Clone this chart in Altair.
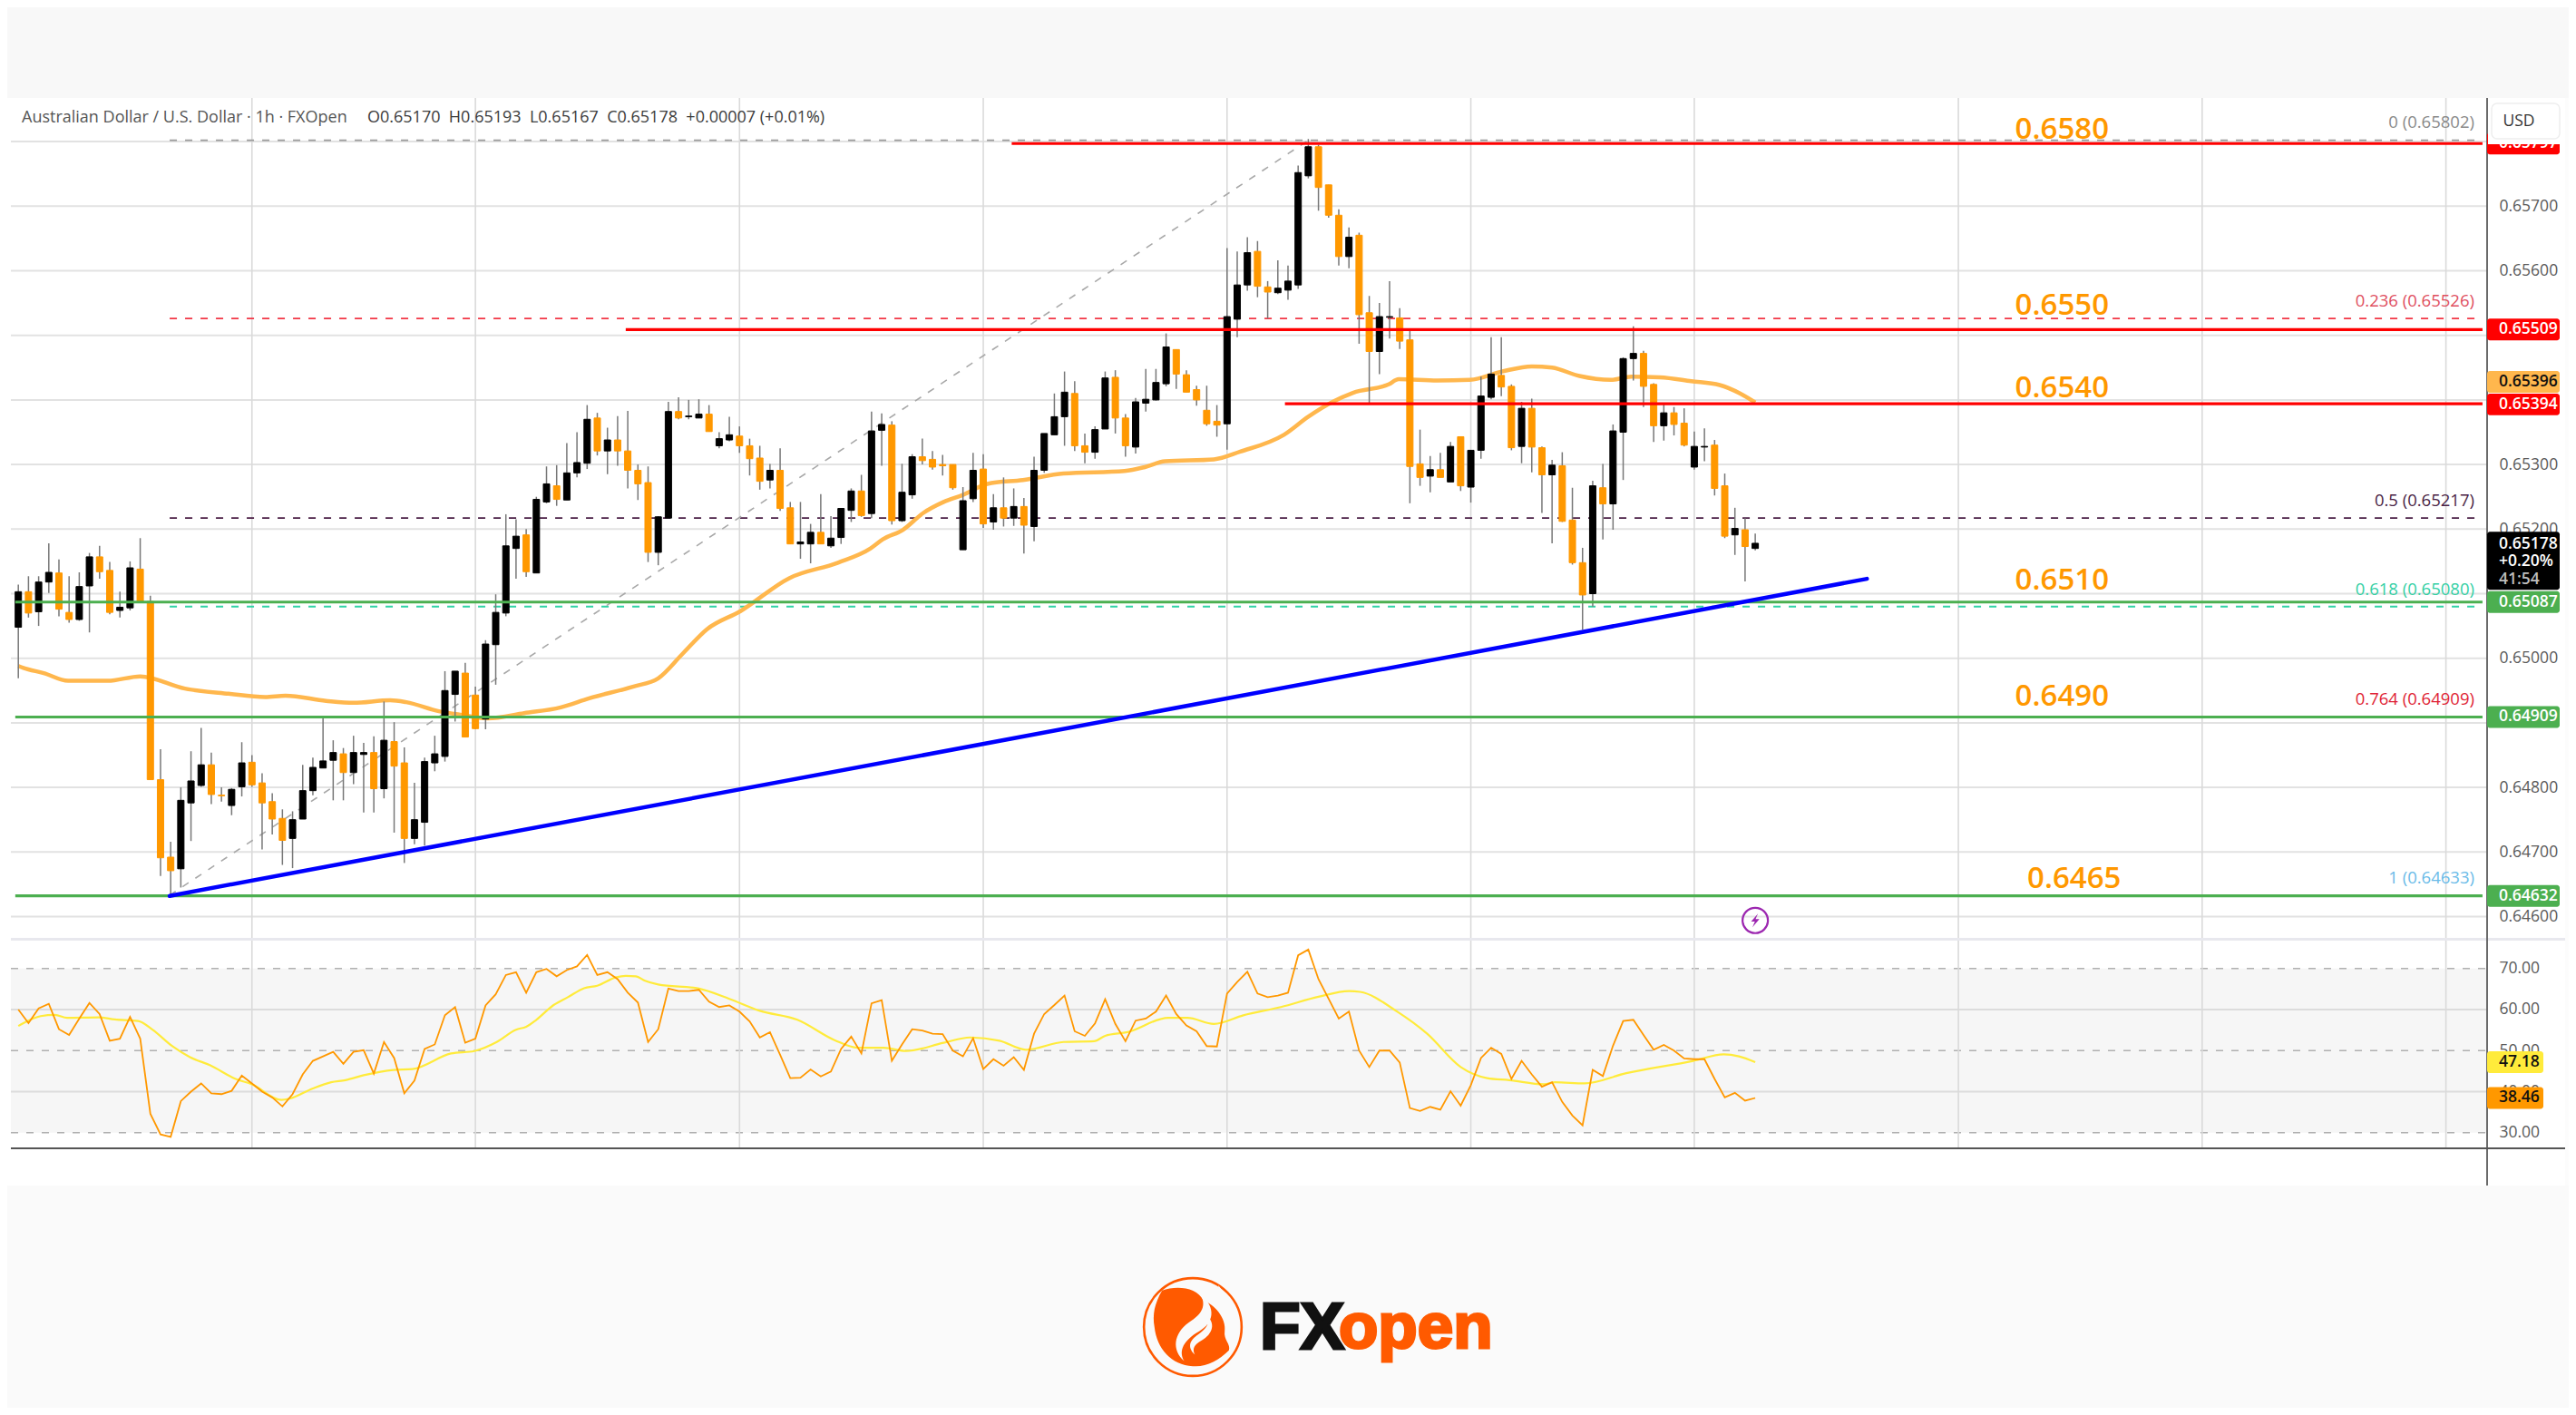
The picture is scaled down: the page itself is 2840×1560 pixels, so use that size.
import altair as alt
import pandas as pd

# ---------- candles (price x 100000) ----------
bar_high = [
65114,65127,65127,65178,65153,65127,65133,65163,65174,65149,
65103,65150,65186,65097,64859,64716,64800,64856,64892,64854,
64800,64799,64870,64850,64822,64791,64766,64763,64835,64846,
64908,64873,64861,64880,64869,64879,64933,64901,64862,64807,
64846,64880,64980,64980,64993,64956,65028,65099,65223,65215,
65200,65250,65297,65299,65333,65350,65392,65380,65357,65375,
65383,65300,65297,65220,65397,65404,65400,65401,65392,65350,
65374,65359,65340,65329,65301,65325,65242,65242,65208,65254,
65220,65232,65263,65284,65382,65379,65367,65301,65316,65340,
65321,65315,65300,65265,65318,65316,65254,65280,65263,65248,
65312,65348,65410,65444,65429,65348,65359,65444,65446,65378,
65403,65448,65448,65503,65478,65446,65422,65422,65392,65635,
65630,65652,65646,65584,65616,65608,65763,65804,65795,65733,
65695,65667,65659,65561,65550,65584,65542,65509,65354,65313,
65318,65335,65343,65322,65436,65497,65497,65424,65397,65402,
65328,65307,65319,65264,65171,65275,65301,65362,65466,65514,
65476,65426,65394,65389,65387,65351,65356,65338,65286,65233,
65217,65193]
bar_low = [
64969,65063,65050,65101,65065,65055,65058,65040,65123,65068,
65063,65074,65088,64812,64663,64632,64645,64717,64801,64774,
64778,64757,64786,64801,64704,64727,64680,64675,64751,64788,
64830,64780,64780,64805,64761,64761,64783,64730,64683,64712,
64710,64825,64840,64902,64878,64890,64890,64959,65065,65123,
65126,65132,65240,65236,65245,65280,65293,65314,65285,65298,
65263,65245,65149,65144,65217,65370,65370,65372,65351,65325,
65336,65318,65283,65261,65263,65228,65177,65154,65147,65177,
65171,65177,65211,65219,65217,65298,65207,65211,65247,65300,
65292,65283,65261,65168,65242,65202,65199,65204,65205,65162,
65181,65287,65346,65329,65321,65302,65309,65355,65348,65312,
65317,65382,65399,65421,65417,65412,65391,65360,65343,65323,
65497,65569,65559,65526,65564,65555,65572,65743,65693,65682,
65608,65604,65487,65394,65440,65495,65479,65240,65267,65257,
65280,65273,65259,65241,65309,65401,65406,65322,65302,65288,
65225,65178,65211,65145,65044,65080,65184,65199,65276,65430,
65389,65335,65337,65345,65328,65292,65305,65252,65186,65160,
65119,65167]
body_top = [
65103,65103,65118,65133,65132,65071,65111,65157,65157,65136,
65079,65140,65138,65088,64812,64692,64780,64810,64835,64835,
64788,64797,64838,64839,64807,64778,64752,64750,64795,64831,
64841,64854,64852,64854,64854,64854,64873,64871,64838,64750,
64840,64852,64950,64980,64977,64943,65022,65071,65174,65189,
65191,65246,65270,65267,65287,65303,65370,65372,65338,65338,
65321,65291,65272,65219,65382,65382,65375,65378,65378,65340,
65346,65344,65329,65310,65291,65291,65233,65180,65195,65195,
65186,65232,65259,65259,65352,65362,65361,65257,65312,65312,
65308,65300,65300,65244,65291,65293,65233,65233,65235,65235,
65291,65348,65374,65412,65410,65329,65354,65434,65435,65372,
65397,65401,65427,65482,65478,65439,65416,65384,65367,65529,
65578,65628,65630,65575,65573,65584,65752,65792,65792,65733,
65686,65652,65655,65535,65529,65529,65527,65493,65301,65292,
65292,65328,65343,65322,65406,65440,65438,65421,65387,65387,
65326,65299,65298,65214,65148,65267,65264,65352,65464,65472,
65472,65424,65380,65380,65364,65328,65328,65330,65267,65201,
65199,65178]
body_bottom = [
65048,65070,65072,65118,65076,65060,65060,65112,65134,65071,
65074,65078,65088,64812,64691,64671,64674,64776,64803,64789,
64787,64772,64801,64804,64776,64751,64718,64721,64751,64795,
64830,64842,64823,64823,64851,64798,64798,64833,64721,64721,
64746,64838,64848,64944,64878,64891,64906,65021,65070,65170,
65134,65132,65242,65246,65245,65287,65302,65321,65321,65321,
65291,65270,65164,65164,65217,65372,65374,65372,65351,65329,
65338,65329,65309,65274,65276,65232,65177,65177,65177,65177,
65174,65187,65229,65221,65224,65353,65213,65213,65253,65306,
65296,65298,65264,65168,65247,65208,65211,65217,65217,65206,
65204,65291,65346,65374,65329,65319,65319,65355,65372,65329,
65327,65395,65400,65425,65440,65412,65400,65363,65361,65363,
65525,65578,65576,65567,65566,65570,65578,65747,65729,65686,
65622,65622,65532,65475,65475,65528,65491,65297,65280,65282,
65280,65273,65267,65265,65322,65404,65420,65326,65328,65327,
65284,65284,65212,65148,65098,65100,65239,65239,65350,65464,
65421,65360,65360,65362,65330,65296,65327,65263,65189,65191,
65173,65170]
bar_up = [
1,0,1,1,0,0,1,1,0,0,
1,1,0,0,0,0,1,1,1,0,
0,1,1,0,0,0,0,1,1,1,
1,1,0,1,1,0,1,0,0,1,
1,1,1,1,0,0,1,1,1,1,
0,1,1,0,1,1,1,0,1,0,
0,0,0,1,1,0,1,1,0,1,
1,0,0,0,1,0,0,1,1,0,
1,1,1,0,1,1,0,1,1,0,
0,0,0,1,1,0,1,0,1,0,
1,1,1,1,0,0,1,1,0,0,
1,1,1,1,0,0,0,0,0,1,
1,1,0,0,1,1,1,1,0,0,
0,1,0,0,1,1,0,0,0,1,
0,1,0,1,1,1,0,0,1,0,
0,1,0,0,0,1,0,1,1,1,
0,0,1,0,0,1,1,0,0,1,
0,1]

# ---------- moving average of price ----------
ma_bar = [0,0.5,2.5,4.9,8.8,12,16.4,20.7,24.3,26.3,30.3,33,36.6,38.2,41.4,43.8,46.2,49.8,53.4,56.2,60.5,63,65.4,67.8,71.1,
          75.9,80.7,83.9,85.1,87.1,89.1,91.1,93,95.4,98.9,102.9,108.9,110.9,112.9,117.7,120.3,124.6,127,129.4,131.4,134.9,135.9,
          139.7,142.9,146.1,149,151,153.7,156.8,158.8,161.6,164.7,167.5,169.5,171]
ma_val = [64988,64985,64977,64965,64965,64972,64953,64945,64940,64942,64934,64931,64935,64932,64918,64912,64907,64915,64924,64938,64956,64969,65007,65045,65073,
          65124,65148,65170,65184,65199,65225,65242,65253,65270,65276,65286,65290,65296,65305,65308,65320,65346,65374,65397,65411,65424,65432,
          65430,65431,65444,65452,65450,65437,65431,65436,65435,65429,65423,65410,65396]

# ---------- RSI ----------
rsi = [
60.0,56.7,60.3,61.4,55.2,53.8,57.8,61.6,58.9,52.4,
52.9,58.2,52.9,34.6,29.6,29.0,37.7,40.0,42.0,39.6,
39.4,40.2,43.9,42.0,40.0,38.6,36.4,39.4,44.2,47.5,
48.6,49.7,46.8,49.7,50.1,44.4,52.1,48.2,39.6,42.7,
50.4,51.5,58.6,60.6,51.9,52.9,61.0,63.7,68.4,69.1,
64.1,69.1,69.9,68.1,69.6,70.5,73.3,68.4,69.1,67.4,
64.1,61.7,52.1,55.2,65.1,64.5,64.5,64.8,61.9,60.6,
61.0,59.5,57.1,53.2,54.5,49.0,43.3,43.4,45.4,43.7,
44.9,50.4,53.4,49.3,61.5,62.3,47.5,51.5,55.2,54.9,
54.1,54.0,50.0,48.6,53.0,45.5,47.9,46.3,48.4,45.3,
54.1,58.9,61.1,63.4,54.7,53.6,56.6,62.5,56.5,52.3,
57.3,57.8,59.5,63.4,58.9,56.1,54.7,51.1,51.0,63.9,
66.7,69.2,63.9,63.0,63.4,64.1,73.2,74.6,67.4,62.6,
57.8,59.5,50.0,46.0,50.0,50.0,47.1,36.0,35.3,36.3,
35.6,40.1,36.6,41.6,48.2,50.7,49.2,43.1,47.5,44.2,
41.2,42.3,37.5,34.2,31.8,45.3,43.8,51.2,57.2,57.5,
53.8,50.2,51.4,50.0,48.1,47.9,47.9,43.1,38.6,39.7,
37.8,38.46]
rsi_ma_bar = [0,0.5,2.2,3.6,4.8,7.9,9.5,11.8,13.2,15.2,16.9,18.9,21.4,23,25.9,26.7,29,30.8,32.2,34,36.9,38.8,42.6,44.9,47.1,49,50,51,52.7,54.1,55.7,57,58.8,59.8,60.8,61.7,63,
              67,70,73,76.7,80.4,82.6,85.2,87.4,91.1,93.7,96.6,99.2,102.9,105.9,107,109.2,113.2,115.1,117.7,120.6,124.3,128,131,132.1,135.8,138.7,142,144.6,146.8,150.2,151.3,154.2,158.3,164.9,167.9,169.4,171]
rsi_ma_val = [56.0,56.7,58.4,58.7,58.0,58.1,57.6,57.2,55.1,51.0,48.4,46.4,43.1,41.8,38.0,38.3,40.8,42.3,42.8,44.0,45.3,45.5,49.3,49.9,52.1,55.1,55.8,57.5,61.1,63.0,65.2,65.8,67.8,68.2,68.1,67.0,66.1,
              65.1,62.6,59.7,57.5,52.5,50.7,50.7,49.9,51.9,53.2,52.4,50.2,52.1,52.3,53.6,54.5,58.0,58.0,56.5,58.6,60.6,63.1,64.5,64.3,59.4,54.1,46.0,43.3,42.8,41.8,42.3,42.0,44.5,47.5,49.1,48.6,47.18]

# ---------- axes ----------
price_grid = [0.646,0.647,0.648,0.649,0.650,0.651,0.652,0.653,0.654,0.655,0.656,0.657,0.658]
price_ticks = [0.646,0.647,0.648,0.650,0.652,0.653,0.656,0.657]
rsi_ticks = [30,40,50,60,70]
rsi_solid = [40,60]
rsi_dashed = [30,50,70]
time_ticks = [23,45,71,95,119,143,165,191,215,239]
time_labels = ["7","9","11","12","13","14","16","18","19","20"]

# ---------- drawn levels ----------
solid_price = [0.65797,0.65509,0.65394,0.65087,0.64909,0.64632]
solid_start = [97.8,59.8,124.7,-0.3,-0.3,-0.3]
solid_color = ["#ff0000","#ff0000","#ff0000","#4caf50","#4caf50","#4caf50"]
fib_price = [0.65802,0.65526,0.65217,0.65080,0.64909,0.64633]
fib_color = ["#9a9a9a","#f23645","#4a1f45","#2fd3a5","#f23645","#2a8fd0"]
fib_text = ["0 (0.65802)","0.236 (0.65526)","0.5 (0.65217)","0.618 (0.65080)","0.764 (0.64909)","1 (0.64633)"]
fib_text_y = [0.65829,0.65553,0.65244,0.65106,0.64936,0.64660]
fib_text_color = ["#8a8a8a","#e0505f","#4a1f45","#35d0a5","#e01f35","#6bbbe8"]
level_text = ["0.6580","0.6550","0.6540","0.6510","0.6490","0.6465"]
level_y = [0.65818,0.65546,0.65418,0.65121,0.64940,0.64658]
level_x = [201.2,201.2,201.2,201.2,201.2,202.4]

# ---------- price badges ----------
badge_text = ["0.65797","0.65509","0.65396","0.65394","0.65087","0.64909","0.64632"]
badge_pos = [0.65797,0.65509,0.65428,0.65393,0.65087,0.64909,0.64632]
badge_fill = ["#ff0000","#ff0000","#ffb74d","#ff0000","#4caf50","#4caf50","#4caf50"]
badge_ink = ["#ffffff","#ffffff","#111111","#ffffff","#ffffff","#ffffff","#ffffff"]
rsi_badge_text = ["47.18","38.46"]
rsi_badge_val = [47.18,38.46]
rsi_badge_fill = ["#ffeb3b","#ff9800"]
last_lines = ["0.65178","+0.20%","41:54"]
last_y = [0.65176,0.65150,0.65122]
last_ink = ["#ffffff","#ffffff","#bdbdbd"]
last_box = [0.65196,0.65106]

FONT = "Open Sans"
WIDTH, HEIGHT = 2824, 1544
X = alt.Scale(domain=[0,240], range=[7.2,2704.8], nice=False, zero=False)
P = alt.Scale(domain=[0.646,0.658], range=[1002.5,148.1], nice=False, zero=False)
R = alt.Scale(domain=[30,70], range=[1240.8,1059.7], nice=False, zero=False)

def xx(f, axis=None):
    return alt.X(f"{f}:Q", scale=X, axis=axis)
def yp(f, axis=None):
    return alt.Y(f"{f}:Q", scale=P, axis=axis)
def yr(f, axis=None):
    return alt.Y(f"{f}:Q", scale=R, axis=axis)

bars = pd.DataFrame({"i":range(len(bar_high)),
    "h":[v/1e5 for v in bar_high],"l":[v/1e5 for v in bar_low],
    "t":[v/1e5 for v in body_top],"b":[v/1e5 for v in body_bottom],"u":bar_up})
ma = pd.DataFrame({"i":ma_bar,"v":[v/1e5 for v in ma_val]})
rsi_df = pd.DataFrame({"i":range(len(rsi)),"v":rsi})
rsi_ma = pd.DataFrame({"i":rsi_ma_bar,"v":rsi_ma_val})
ONE = pd.DataFrame({"a":[0]})

def band(x0,x1,y0,y1,fill):
    return alt.Chart(ONE).mark_rect(color=fill).encode(
        x=alt.value(x0),x2=alt.value(x1),y=alt.value(y0),y2=alt.value(y1))
def label(text,x,y,size,color,weight="normal",align="left",font=FONT,**kw):
    return alt.Chart(ONE).mark_text(text=text,align=align,baseline="middle",fontSize=size,
        color=color,fontWeight=weight,font=font,**kw).encode(x=alt.value(x),y=alt.value(y))

PLOT_L, AXIS_X, PANEL_R = 4, 2734, 2820
TOP, SEP, TIME_Y, BOTTOM = 100, 1027, 1258, 1299
BG = "#fafafa"
AXIS_FS = 17.5

layers = []
# page bands
layers += [band(0,WIDTH,0,TOP,"#f8f8f8"), band(0,WIDTH,BOTTOM,HEIGHT,BG), band(PANEL_R,WIDTH,TOP,BOTTOM,"#fcfcfc")]

# price axis with labels (behind every mark), and its grid
price_axis = alt.Axis(orient="right",offset=AXIS_X-WIDTH,values=price_ticks,format=".5f",grid=False,ticks=False,
    domain=False,labelPadding=13,title=None,labelFont=FONT,labelFontSize=AXIS_FS,labelColor="#5a5a5a",
    labelOverlap=False,labelFlush=False,labelBound=False,labelFontWeight=500)
layers.append(alt.Chart(pd.DataFrame({"v":price_grid})).mark_rule(color="#e2e2e2",strokeWidth=2).encode(
    y=yp("v",price_axis),x=alt.value(PLOT_L),x2=alt.value(AXIS_X)))

# RSI shading, axis, grid
layers.append(alt.Chart(pd.DataFrame({"a":[70],"b":[30]})).mark_rect(color="#f6f6f6").encode(
    y=yr("a"),y2="b:Q",x=alt.value(PLOT_L),x2=alt.value(AXIS_X)))
rsi_axis = alt.Axis(orient="right",offset=AXIS_X-WIDTH,values=rsi_ticks,format=".2f",grid=False,ticks=False,
    domain=False,labelPadding=13,title=None,labelFont=FONT,labelFontSize=AXIS_FS,labelColor="#5a5a5a",
    labelOverlap=False,labelFlush=False,labelBound=False,labelFontWeight=500)
layers.append(alt.Chart(pd.DataFrame({"v":rsi_solid})).mark_rule(color="#dcdcdc",strokeWidth=2).encode(
    y=yr("v",rsi_axis),x=alt.value(PLOT_L),x2=alt.value(AXIS_X)))
layers.append(alt.Chart(pd.DataFrame({"v":rsi_dashed})).mark_rule(color="#b0b0b0",strokeWidth=1.6,strokeDash=[8,9]).encode(
    y=yr("v"),x=alt.value(PLOT_L),x2=alt.value(AXIS_X)))

# time axis and vertical grid
label_map = "{" + ",".join(f"{k}:'{v}'" for k,v in zip(time_ticks,time_labels)) + "}"
time_axis = alt.Axis(orient="bottom",offset=TIME_Y-HEIGHT,values=time_ticks,labelExpr=f"{label_map}[datum.value]",
    grid=False,ticks=False,domain=False,labelPadding=12,title=None,labelFont=FONT,labelFontSize=16,labelColor="#5a5a5a",
    labelOverlap=False,labelFlush=False,labelBound=False,labelFontWeight=600)
layers.append(alt.Chart(pd.DataFrame({"v":time_ticks})).mark_rule(color="#dadada",strokeWidth=1.6).encode(
    x=xx("v",time_axis),y=alt.value(TOP),y2=alt.value(TIME_Y)))

# panel separators and axis lines
layers.append(band(PLOT_L,PANEL_R,SEP-1,SEP+2,"#e8e8ee"))
layers.append(band(AXIS_X-1,AXIS_X+1,TOP,BOTTOM,"#6a6a6a"))
layers.append(band(PLOT_L,PANEL_R,TIME_Y-1,TIME_Y+1,"#555555"))

# fib levels and diagonal
fib_df = pd.DataFrame({"v":fib_price,"c":fib_color,"a":[14.9]*6,"b":[242]*6})
layers.append(alt.Chart(fib_df).mark_rule(strokeWidth=1.8,strokeDash=[8,9]).encode(
    x=xx("a"),x2="b:Q",y=yp("v"),color=alt.Color("c:N",scale=None)))
layers.append(alt.Chart(pd.DataFrame({"a":[14.9],"b":[127],"p":[0.64633],"q":[0.65802]})).mark_rule(
    color="#a8a8a8",strokeWidth=1.6,strokeDash=[8,9]).encode(x=xx("a"),x2="b:Q",y=yp("p"),y2="q:Q"))

# MA
layers.append(alt.Chart(ma).mark_line(color="#ffb74d",strokeWidth=4.5,interpolate="monotone").encode(
    x=xx("i"),y=yp("v")))

# candles
layers.append(alt.Chart(bars).mark_rule(color="#777777",strokeWidth=1.5).encode(x=xx("i"),y=yp("h"),y2="l:Q"))
layers.append(alt.Chart(bars[bars.u==1]).mark_bar(size=7,color="#000000",stroke="#000000",strokeWidth=1).encode(
    x=xx("i"),y=yp("t"),y2="b:Q"))
layers.append(alt.Chart(bars[bars.u==0]).mark_bar(size=7,color="#ff9800",stroke="#ff9800",strokeWidth=1).encode(
    x=xx("i"),y=yp("t"),y2="b:Q"))

# RSI lines
layers.append(alt.Chart(rsi_ma).mark_line(color="#ffeb3b",strokeWidth=2.2,interpolate="monotone").encode(x=xx("i"),y=yr("v")))
layers.append(alt.Chart(rsi_df).mark_line(color="#ff9800",strokeWidth=1.8).encode(x=xx("i"),y=yr("v")))

# solid levels and trend
solid_df = pd.DataFrame({"v":solid_price,"a":solid_start,"b":[242.6]*6,"c":solid_color})
layers.append(alt.Chart(solid_df).mark_rule(strokeWidth=3.2).encode(
    x=xx("a"),x2="b:Q",y=yp("v"),color=alt.Color("c:N",scale=None)))
layers.append(alt.Chart(pd.DataFrame({"a":[14.9],"b":[182],"p":[0.64632],"q":[0.65123]})).mark_rule(
    color="#0000ff",strokeWidth=4.5,strokeCap="round").encode(x=xx("a"),x2="b:Q",y=yp("p"),y2="q:Q"))

# level labels
lvl_df = pd.DataFrame({"t":level_text,"x":level_x,"y":level_y})
layers.append(alt.Chart(lvl_df).mark_text(font=FONT,fontSize=33,fontWeight=600,color="#ff9800",baseline="middle",align="center").encode(
    x=xx("x"),y=yp("y"),text="t:N"))
fib_lbl = pd.DataFrame({"t":fib_text,"y":fib_text_y,"c":fib_text_color,"x":[241.8]*6})
layers.append(alt.Chart(fib_lbl).mark_text(font=FONT,fontSize=18.5,align="right",baseline="middle").encode(
    x=xx("x"),y=yp("y"),text="t:N",color=alt.Color("c:N",scale=None)))

# badges
HALF_P = 0.000168
bdg = pd.DataFrame({"t":badge_text,"v":badge_pos,"f":badge_fill,"k":badge_ink})
bdg["lo"] = bdg.v-HALF_P
bdg["hi"] = bdg.v+HALF_P
layers.append(alt.Chart(bdg).mark_rect(cornerRadius=3).encode(
    y=yp("lo"),y2="hi:Q",x=alt.value(AXIS_X),x2=alt.value(2814),color=alt.Color("f:N",scale=None)))
layers.append(alt.Chart(bdg).mark_text(font=FONT,fontSize=AXIS_FS,fontWeight=600,align="left",baseline="middle").encode(
    y=yp("v"),x=alt.value(2747),text="t:N",color=alt.Color("k:N",scale=None)))
# USD box over the top badge
layers.append(band(AXIS_X+1,2816,TOP,151,"#ffffff"))
layers.append(alt.Chart(ONE).mark_rect(color="#ffffff",stroke="#eeeeee",strokeWidth=1.5,cornerRadius=6).encode(
    x=alt.value(2739),x2=alt.value(2814),y=alt.value(106),y2=alt.value(145)))
layers.append(label("USD",2769,126,17.5,"#333333",weight=500,align="center"))
# last price box
layers.append(alt.Chart(pd.DataFrame({"p":[last_box[0]],"q":[last_box[1]]})).mark_rect(color="#000000",cornerRadius=3).encode(
    y=yp("q"),y2="p:Q",x=alt.value(AXIS_X),x2=alt.value(2814)))
layers.append(alt.Chart(pd.DataFrame({"t":last_lines,"v":last_y,"k":last_ink})).mark_text(
    font=FONT,fontSize=AXIS_FS,fontWeight=600,align="left",baseline="middle").encode(
    y=yp("v"),x=alt.value(2747),text="t:N",color=alt.Color("k:N",scale=None)))
# RSI badges
rb = pd.DataFrame({"t":rsi_badge_text,"v":rsi_badge_val,"f":rsi_badge_fill})
rb["lo"] = rb.v-2.65
rb["hi"] = rb.v+2.65
layers.append(alt.Chart(rb).mark_rect(cornerRadius=3).encode(
    y=yr("lo"),y2="hi:Q",x=alt.value(AXIS_X),x2=alt.value(2796),color=alt.Color("f:N",scale=None)))
layers.append(alt.Chart(rb).mark_text(font=FONT,fontSize=AXIS_FS,fontWeight=600,align="left",baseline="middle",color="#111111").encode(
    y=yr("v"),x=alt.value(2747),text="t:N"))

# legend line
layers.append(label("Australian Dollar / U.S. Dollar · 1h · FXOpen",16,122,18,"#555555"))
layers.append(label("O0.65170\u00a0 H0.65193\u00a0 L0.65167\u00a0 C0.65178\u00a0 +0.00007 (+0.01%)",397,122,18,"#3c3c3c"))

# replay icon
layers.append(alt.Chart(pd.DataFrame({"i":[171],"v":[0.64594]})).mark_point(shape="circle",filled=False,size=780,
    color="#9c27b0",strokeWidth=2.2,opacity=1).encode(x=xx("i"),y=yp("v")))
layers.append(alt.Chart(pd.DataFrame({"i":[171],"v":[0.64594]})).mark_point(
    shape="M0.4,-1 L-0.6,0.15 L-0.05,0.15 L-0.4,1 L0.6,-0.2 L0.05,-0.2 Z",filled=True,size=230,
    color="#9c27b0",opacity=1).encode(x=xx("i"),y=yp("v")))

# logo
LOGO_X, LOGO_Y = 1307, 1455
ORANGE = "#ff5a00"
layers.append(alt.Chart(ONE).mark_point(shape="circle",filled=False,size=11600,color=ORANGE,strokeWidth=2.6,opacity=1).encode(
    x=alt.value(LOGO_X),y=alt.value(LOGO_Y)))
SWIRL = ("M-0.72,-0.86 C-0.4,-0.98 0.1,-0.95 0.25,-0.62 C0.5,-0.55 0.8,-0.2 0.75,0.1 C0.72,0.3 0.9,0.4 0.85,0.55 "
         "C0.6,0.8 0.3,0.95 0.0,0.92 C-0.5,0.9 -0.85,0.5 -0.9,0.0 C-0.95,-0.3 -0.9,-0.55 -0.72,-0.86 Z")
layers.append(alt.Chart(ONE).mark_point(shape=SWIRL,filled=True,size=8800,color=ORANGE,opacity=1).encode(
    x=alt.value(LOGO_X),y=alt.value(LOGO_Y)))
CUT = ("M0.2,-0.75 C0.55,-0.45 0.5,-0.1 0.15,0.1 C-0.2,0.3 -0.35,0.55 -0.2,0.8 C-0.5,0.55 -0.45,0.15 -0.1,-0.1 "
       "C0.25,-0.32 0.3,-0.5 0.2,-0.75 Z M0.35,-0.25 C0.55,-0.05 0.45,0.2 0.15,0.35 C0.0,0.45 0.0,0.55 0.05,0.65 "
       "C-0.15,0.45 -0.05,0.3 0.12,0.18 C0.3,0.05 0.4,-0.05 0.35,-0.25 Z M0.6,-0.98 L0.98,-0.5 L0.98,-0.45 L0.62,-0.85 Z")
layers.append(alt.Chart(ONE).mark_point(shape=CUT,filled=True,size=8800,color=BG,opacity=1).encode(
    x=alt.value(LOGO_X),y=alt.value(LOGO_Y)))
layers.append(label("FX",1381,1457,73,"#111111",weight="bold",font="Liberation Sans",stroke="#111111",strokeWidth=3))
layers.append(label("open",1468,1457,71,ORANGE,weight="bold",font="Liberation Sans",stroke=ORANGE,strokeWidth=3))

chart = (alt.layer(*layers)
    .resolve_scale(y="independent")
    .properties(width=WIDTH,height=HEIGHT,padding=0,background="#ffffff",
                autosize=alt.AutoSizeParams(type="none"))
    .configure_view(stroke=None))
chart.save("out.html", embed_options={"renderer":"svg","actions":False})
